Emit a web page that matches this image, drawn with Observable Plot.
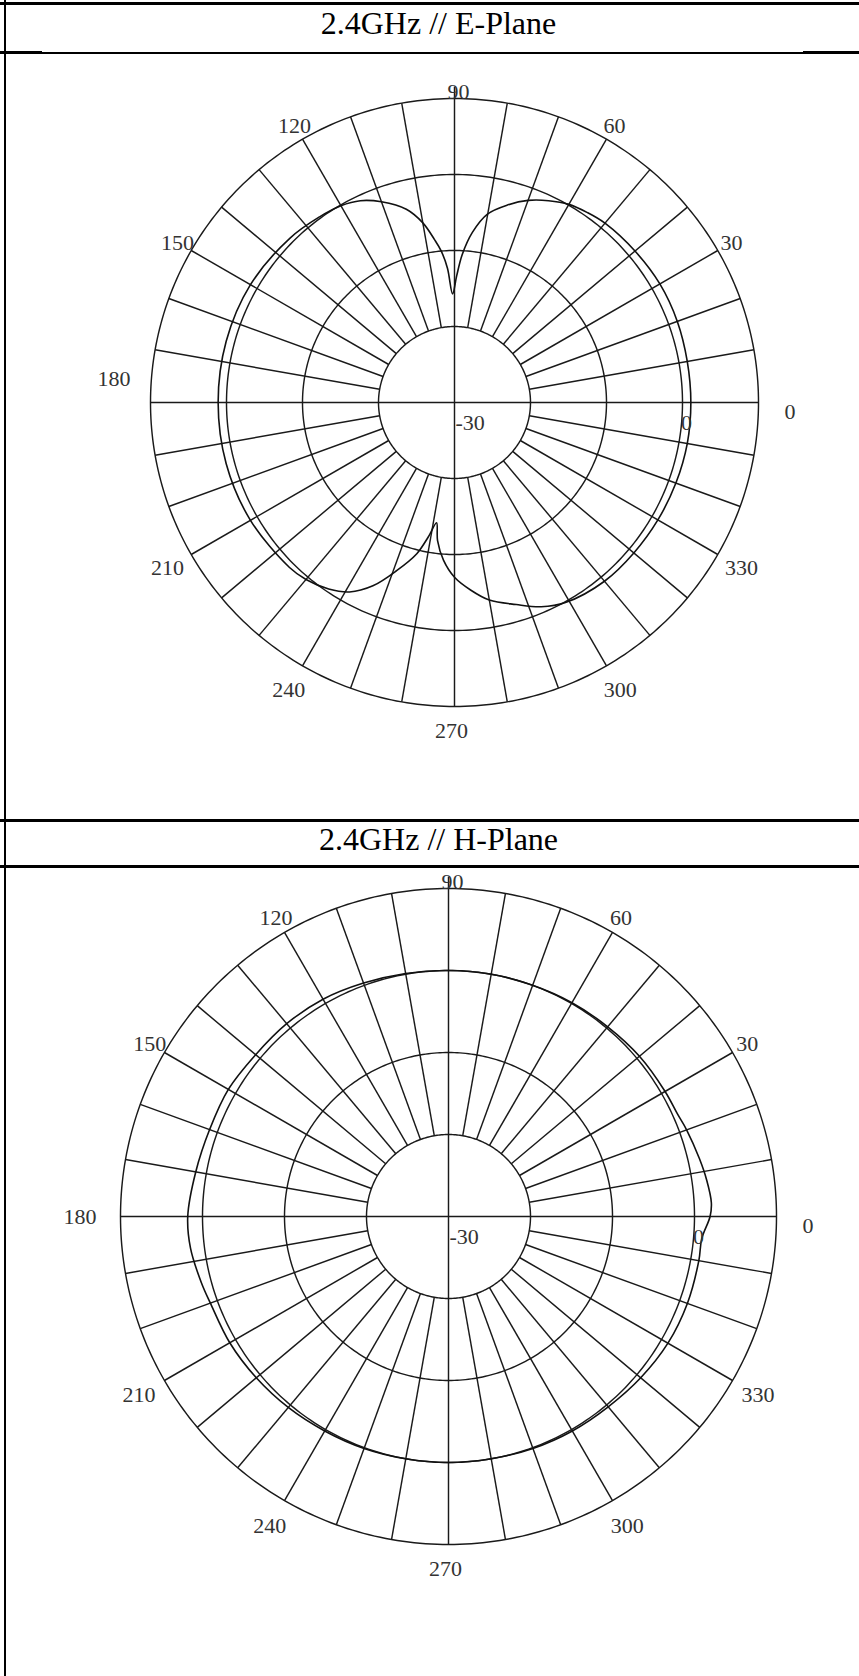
<!DOCTYPE html>
<html>
<head>
<meta charset="utf-8">
<script src="https://cdn.jsdelivr.net/npm/d3@7"></script>
<script src="https://cdn.jsdelivr.net/npm/@observablehq/plot@0.6"></script>
<style>
  html, body { margin: 0; padding: 0; background: #fff; }
  #page { position: relative; width: 859px; height: 1676px; overflow: hidden; background: #fff; }
  .rule { position: absolute; background: #000; }
  .title { position: absolute; left: 20px; width: 837px; text-align: center;
           font-family: "Liberation Serif", "Times New Roman", serif; font-size: 32px;
           line-height: 32px; color: #000; white-space: nowrap; }
  .chart { position: absolute; left: 0; }
  .chart svg { display: block; }
</style>
</head>
<body>
<div id="page">
  <div class="rule" style="left:0;top:2px;width:859px;height:3px;"></div>
  <div class="rule" style="left:4px;top:0;width:2px;height:1676px;"></div>
  <div class="title" id="title1" style="top:7px;"></div>
  <div class="rule" style="left:0;top:52px;width:859px;height:1.5px;"></div>
  <div class="rule" style="left:0;top:51px;width:42px;height:3px;"></div>
  <div class="rule" style="left:803px;top:51px;width:56px;height:3px;"></div>
  <div class="chart" id="chart1" style="top:55px;"></div>
  <div class="rule" style="left:0;top:819px;width:859px;height:3px;"></div>
  <div class="title" id="title2" style="top:823px;"></div>
  <div class="rule" style="left:0;top:865px;width:859px;height:3px;"></div>
  <div class="chart" id="chart2" style="top:869px;"></div>
</div>
<script>
// ---------- data ----------
const titles = ["2.4GHz // E-Plane", "2.4GHz // H-Plane"];

const tickAngles = [0, 30, 60, 90, 120, 150, 180, 210, 240, 270, 300, 330];
const tickLabels = ["0", "30", "60", "90", "120", "150", "180", "210", "240", "270", "300", "330"];

const centreDb = -30;            // value at the centre of the plot
const ringLevels = [-20, -10, 0, 10];   // dB circles
const scaleLevels = [-30, 0];           // radial scale labels
const scaleLabels = ["-30", "0"];

// E-plane pattern (angle in degrees, gain in dB)
const eAngle = [0, 10, 20, 30, 40, 50, 55, 60, 65, 70, 75, 80, 84, 87, 89, 91, 93, 95, 97, 100,
                104, 110, 115, 120, 126, 135, 150, 165, 180, 195, 210, 225, 230, 236, 241, 246,
                251, 256, 259, 261.5, 263, 266, 270, 275, 280, 287, 293, 299, 310, 320, 330, 340, 350];
const eGain  = [1.1, 1.1, 1.2, 1.2, 1.0, 0.8, 0.5, 0.1, -0.7, -1.7, -3.1, -4.8, -7.5, -10.5, -13.3, -15.7, -12.3, -10.0, -8.4, -6.0,
                -3.8, -1.9, -0.7, -0.1, 0.2, 0.6, 1.0, 1.1, 1.1, 1.1, 1.0, 0.7, 0.4, -0.4, -1.5, -3.6,
                -6.6, -9.5, -12.0, -14.0, -11.7, -9.2, -7.0, -5.2, -3.6, -2.2, -0.8, 0.1, 0.7, 0.8, 0.9, 1.0, 1.1];

// H-plane pattern (angle in degrees, gain in dB)
const hAngle = [0, 3, 8, 13, 20, 24, 30, 40, 50, 60, 70, 80, 90, 100, 110, 120, 130, 140, 150, 160,
                170, 180, 187, 195, 200, 210, 220, 230, 240, 250, 260, 270, 280, 290, 300, 310,
                320, 330, 340, 350, 355];
const hGain  = [1.9, 2.1, 1.8, 1.4, 0.9, 0.6, 0.5, 0.4, 0.2, 0.1, 0.0, 0.0, 0.0, 0.1, 0.3, 0.6, 0.7, 0.7, 1.0, 1.0,
                1.3, 1.8, 1.7, 1.2, 0.9, 0.8, 0.6, 0.4, 0.2, 0.1, 0.0, 0.0, 0.0, 0.1, 0.2, 0.3,
                0.6, 0.9, 1.0, 1.0, 1.0];

// ---------- drawing ----------
const W = 859;
const INK = "#1a1a1a";
const LABEL = "#333";
const FONT = "Liberation Serif, Times New Roman, serif";

function polarChart({angles, gains, pxPerDb, cx, cy, height, label180dy, label180dx}) {
  const outerDb = ringLevels[ringLevels.length - 1];
  const innerDb = ringLevels[0];
  const R = outerDb - centreDb;
  const rad = a => a * Math.PI / 180;
  const px = (a, db) => (db - centreDb) * Math.cos(rad(a));
  const py = (a, db) => (db - centreDb) * Math.sin(rad(a));

  const ringData = ringLevels.flatMap(level => d3.range(0, 361, 1).map(a => ({level, a})));
  const spokes = d3.range(0, 360, 10).filter(a => a % 90 !== 0);
  const axes = [
    {a1: 0, d1: outerDb, a2: 180, d2: outerDb},
    {a1: 270, d1: outerDb, a2: 90, d2: outerDb + 12 / pxPerDb}
  ];
  const pattern = angles.map((a, i) => ({a, g: gains[i]}));
  const ticks = tickAngles.map((a, i) => ({a, label: tickLabels[i]}));
  const scale = scaleLevels.map((v, i) => ({v, label: scaleLabels[i]}));
  const diag = ticks.filter(d => d.a % 90 !== 0);

  const textBase = {fontFamily: FONT, fontSize: 22, fill: LABEL};
  const grid = {stroke: INK, strokeWidth: 1.45};

  return Plot.plot({
    width: W, height, margin: 0,
    style: {background: "transparent", overflow: "visible"},
    x: {type: "linear", domain: [-cx / pxPerDb, (W - cx) / pxPerDb], axis: null},
    y: {type: "linear", domain: [-(height - cy) / pxPerDb, cy / pxPerDb], axis: null},
    marks: [
      Plot.line(ringData, {x: d => px(d.a, d.level), y: d => py(d.a, d.level), z: "level", ...grid}),
      Plot.link(spokes, {x1: a => px(a, innerDb), y1: a => py(a, innerDb),
        x2: a => px(a, outerDb), y2: a => py(a, outerDb), ...grid}),
      Plot.link(axes, {x1: d => px(d.a1, d.d1), y1: d => py(d.a1, d.d1),
        x2: d => px(d.a2, d.d2), y2: d => py(d.a2, d.d2), ...grid}),
      Plot.line(pattern, {x: d => px(d.a, d.g), y: d => py(d.a, d.g),
        curve: "catmull-rom-closed", stroke: "#111", strokeWidth: 1.6}),
      // angle labels on diagonals
      Plot.text(diag, {x: d => px(d.a, centreDb + R * (d.a < 180 ? 1.052 : 1.09)),
        y: d => py(d.a, centreDb + R * (d.a < 180 ? 1.052 : 1.09)),
        text: "label", textAnchor: "middle", lineAnchor: "middle", ...textBase}),
      // axis labels
      Plot.text(ticks.filter(d => d.a === 0), {x: d => px(0, outerDb), y: 0, text: "label",
        textAnchor: "start", lineAnchor: "middle", dx: 26, dy: 9, ...textBase}),
      Plot.text(ticks.filter(d => d.a === 180), {x: d => px(180, outerDb), y: 0, text: "label",
        textAnchor: "end", lineAnchor: "middle", dx: label180dx, dy: label180dy, ...textBase}),
      Plot.text(ticks.filter(d => d.a === 90), {x: 0, y: d => py(90, outerDb), text: "label",
        textAnchor: "middle", lineAnchor: "middle", dx: 4, dy: -7, ...textBase}),
      Plot.text(ticks.filter(d => d.a === 270), {x: 0, y: d => py(270, outerDb), text: "label",
        textAnchor: "middle", lineAnchor: "top", dx: -3, dy: 16, ...textBase}),
      // radial scale labels
      Plot.text(scale.filter(d => d.v === centreDb), {x: d => d.v - centreDb, y: 0, text: "label",
        textAnchor: "start", lineAnchor: "middle", dx: 1, dy: 20, ...textBase}),
      Plot.text(scale.filter(d => d.v !== centreDb), {x: d => d.v - centreDb, y: 0, text: "label",
        textAnchor: "middle", lineAnchor: "middle", dx: 4, dy: 20, ...textBase})
    ]
  });
}

document.getElementById("title1").textContent = titles[0];
document.getElementById("title2").textContent = titles[1];

document.getElementById("chart1").append(polarChart({
  angles: eAngle, gains: eGain, pxPerDb: 7.6, cx: 454, cy: 347, height: 764,
  label180dx: -20, label180dy: -24
}));
document.getElementById("chart2").append(polarChart({
  angles: hAngle, gains: hGain, pxPerDb: 8.2, cx: 448, cy: 347, height: 807,
  label180dx: -24, label180dy: 0
}));
</script>
</body>
</html>
